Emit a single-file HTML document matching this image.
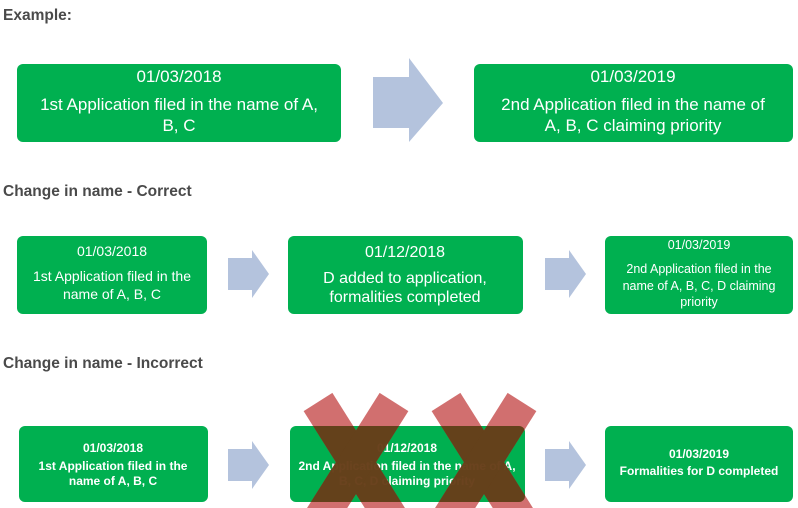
<!DOCTYPE html>
<html><head><meta charset="utf-8"><style>
html,body{margin:0;padding:0;background:#fff;}
svg{display:block;font-family:"Liberation Sans",sans-serif;}
</style></head><body>
<svg width="798" height="508" viewBox="0 0 798 508" xmlns="http://www.w3.org/2000/svg">
<defs>
<clipPath id="bx"><rect x="290" y="426" width="235" height="76" rx="6"/></clipPath>
</defs>
<g font-weight="bold" fill="#4a4a4a" font-size="15.5">
<text x="3" y="20">Example:</text>
<text x="3" y="196">Change in name - Correct</text>
<text x="3" y="368">Change in name - Incorrect</text>
</g>
<rect x="17" y="64" width="324" height="78" rx="6" fill="#00b050"/>
<rect x="474" y="64" width="319" height="78" rx="6" fill="#00b050"/>
<polygon points="373,77 409,77 409,58 443,103 409,142 409,128 373,128" fill="#b4c3dd"/>
<g fill="#fff" font-size="17" text-anchor="middle">
<text x="179" y="82">01/03/2018</text>
<text x="179" y="110">1st Application filed in the name of A,</text>
<text x="179" y="131">B, C</text>
<text x="633" y="82">01/03/2019</text>
<text x="633" y="110">2nd Application filed in the name of</text>
<text x="633" y="131">A, B, C claiming priority</text>
</g>
<rect x="17" y="236" width="190" height="78" rx="6" fill="#00b050"/>
<rect x="288" y="236" width="235" height="78" rx="6" fill="#00b050"/>
<rect x="605" y="236" width="188" height="78" rx="6" fill="#00b050"/>
<polygon points="228,258 252,258 252,250 269,274 252,298 252,290 228,290" fill="#b4c3dd"/>
<polygon points="545,258 569,258 569,250 586,274 569,298 569,290 545,290" fill="#b4c3dd"/>
<g fill="#fff" text-anchor="middle">
<text x="112" y="256" font-size="14">01/03/2018</text>
<text x="112" y="281" font-size="14">1st Application filed in the</text>
<text x="112" y="299" font-size="14">name of A, B, C</text>
<text x="405" y="257" font-size="16">01/12/2018</text>
<text x="405" y="283" font-size="16">D added to application,</text>
<text x="405" y="302" font-size="16">formalities completed</text>
<text x="699" y="249" font-size="12.5">01/03/2019</text>
<text x="699" y="273" font-size="12.5">2nd Application filed in the</text>
<text x="699" y="290" font-size="12.5">name of A, B, C, D claiming</text>
<text x="699" y="306" font-size="12.5">priority</text>
</g>
<rect x="19" y="426" width="189" height="76" rx="6" fill="#00b050"/>
<rect x="290" y="426" width="235" height="76" rx="6" fill="#00b050"/>
<rect x="605" y="426" width="188" height="76" rx="6" fill="#00b050"/>
<polygon points="228,449 252,449 252,441 269,465 252,489 252,481 228,481" fill="#b4c3dd"/>
<polygon points="545,449 569,449 569,441 586,465 569,489 569,481 545,481" fill="#b4c3dd"/>
<g fill="#fff" text-anchor="middle" font-size="12" font-weight="bold">
<text x="113" y="452">01/03/2018</text>
<text x="113" y="470">1st Application filed in the</text>
<text x="113" y="485">name of A, B, C</text>
<text x="407" y="452">01/12/2018</text>
<text x="407" y="470">2nd Application filed in the name of A,</text>
<text x="407" y="485">B, C, D claiming priority</text>
<text x="699" y="458">01/03/2019</text>
<text x="699" y="475">Formalities for D completed</text>
</g>
<g stroke="#c85050" stroke-width="34" opacity="0.82">
<line x1="318" y1="402" x2="400" y2="532"/>
<line x1="394" y1="402" x2="312" y2="532"/>
<line x1="446" y1="402" x2="528" y2="532"/>
<line x1="522" y1="402" x2="440" y2="532"/>
</g>
<g clip-path="url(#bx)" stroke="#5a3c12" stroke-width="34" opacity="0.85">
<line x1="318" y1="402" x2="400" y2="532"/>
<line x1="394" y1="402" x2="312" y2="532"/>
<line x1="446" y1="402" x2="528" y2="532"/>
<line x1="522" y1="402" x2="440" y2="532"/>
</g>
</svg>
</body></html>
